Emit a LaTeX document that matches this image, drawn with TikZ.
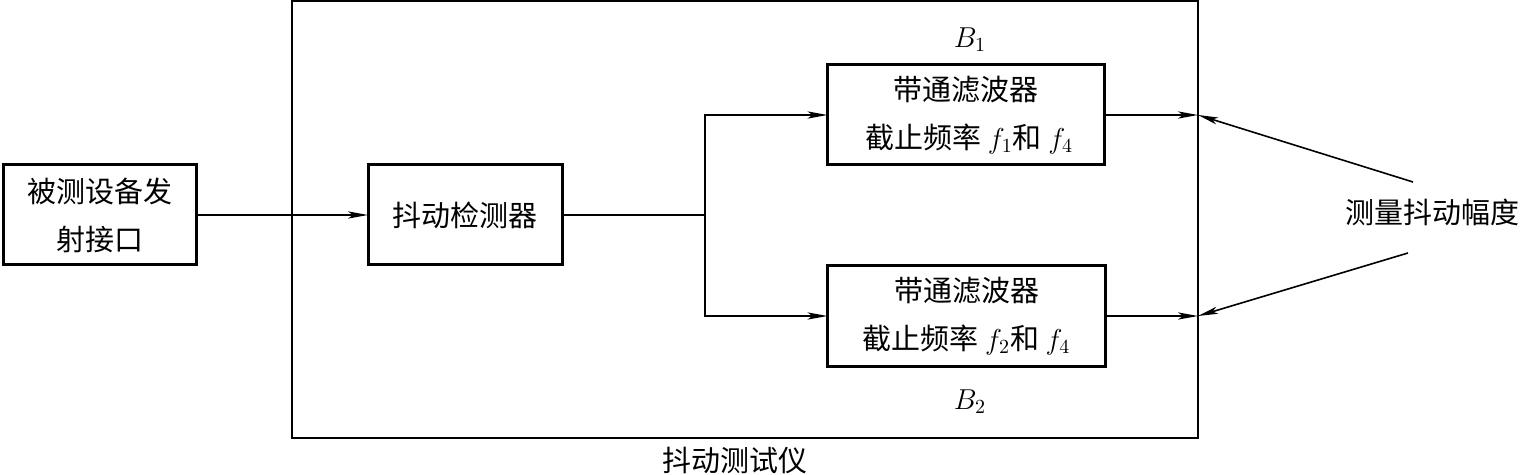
\documentclass[tikz,border=0pt]{standalone}
\usepackage{fontspec}
\newfontfamily\cjk{Noto Sans CJK SC}
\usetikzlibrary{arrows.meta}
\begin{document}
\begin{tikzpicture}[x=0.5pt,y=-0.5pt,
  every node/.style={inner sep=0pt,outer sep=0pt},
  txt/.style={font=\cjk\fontsize{14.5pt}{24pt}\selectfont, align=center},
  blk/.style={txt, draw, line width=1.5pt},
  ln/.style={line width=0.8pt},
  arr/.style={ln, -{Stealth[length=10pt,width=3.6pt,inset=2.5pt]}}]
\useasboundingbox (0,0) rectangle (1526,475);
\node[draw, line width=0.7pt, minimum width=453pt, minimum height=218.5pt] (outer) at (745,219.5) {};
\node[blk, minimum width=96.5pt, minimum height=50pt] (dut) at (99.5,215) {被测设备发\\射接口};
\node[blk, minimum width=97pt, minimum height=50pt] (det) at (465,215) {抖动检测器};
\node[blk, minimum width=138.5pt, minimum height=50pt] (f1) at (966,115) {带通滤波器\\ \ 截止频率 $f_1$和 $f_4$};
\node[blk, minimum width=139pt, minimum height=50.5pt] (f2) at (966.5,316) {带通滤波器\\截止频率 $f_2$和 $f_4$};
\node[txt] (b1) at (970,40) {$B_1$};
\node[txt] (b2) at (970,402) {$B_2$};
\node[txt] (tester) at (735,461) {抖动测试仪};
\node[txt] (meas) at (1432,212) {测量抖动幅度};
\coordinate (j) at (705,215);
\coordinate (a1) at (1413,182);
\coordinate (a2) at (1408,253);
\draw[arr] (dut.east) -- (det.west);
\draw[ln] (det.east) -- (j);
\draw[arr] (j) |- (f1.west);
\draw[arr] (j) |- (f2.west);
\coordinate (o1) at (f1.east -| outer.east);
\coordinate (o2) at (f2.east -| outer.east);
\draw[arr] (f1.east) -- (o1);
\draw[arr] (f2.east) -- (o2);
\draw[arr] (a1) -- (o1);
\draw[arr] (a2) -- (o2);
\end{tikzpicture}
\end{document}
